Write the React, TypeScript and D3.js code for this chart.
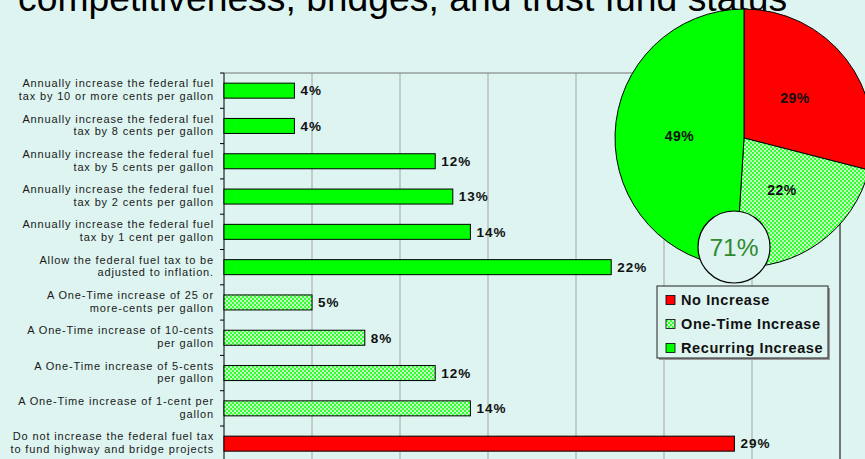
import * as d3 from "d3";

const categories = [
  ["Annually increase the federal fuel", "tax by 10 or more cents per gallon"],
  ["Annually increase the federal fuel", "tax by 8 cents per gallon"],
  ["Annually increase the federal fuel", "tax by 5 cents per gallon"],
  ["Annually increase the federal fuel", "tax by 2 cents per gallon"],
  ["Annually increase the federal fuel", "tax by 1 cent per gallon"],
  ["Allow the federal fuel tax to be", "adjusted to inflation."],
  ["A One-Time increase of 25 or", "more-cents per gallon"],
  ["A One-Time increase of 10-cents", "per gallon"],
  ["A One-Time increase of 5-cents", "per gallon"],
  ["A One-Time increase of 1-cent per", "gallon"],
  ["Do not increase the federal fuel tax", "to fund highway and bridge projects"],
];
const values = [4, 4, 12, 13, 14, 22, 5, 8, 12, 14, 29];
const barGroup = ["rec", "rec", "rec", "rec", "rec", "rec", "one", "one", "one", "one", "no"];

const pieLabels = ["No Increase", "One-Time Increase", "Recurring Increase"];
const pieKeys = ["no", "one", "rec"];
const pieValues = [29, 22, 49];
const circleText = "71%";
const xTicks = [5, 10, 15, 20, 25, 30];

const bg = "#ddf4f0";
const fills: Record<string, string> = { no: "#ff0000", one: "url(#dots)", rec: "#00ff00" };

export default function App() {
  const W = 865, H = 459;
  const left = 224, right = 840, top = 73, bottom = 73 + 35.3 * 11;

  const x = d3.scaleLinear().domain([0, 35]).range([left, right]);
  const y = d3.scaleBand<number>()
    .domain(d3.range(categories.length))
    .range([top, bottom])
    .paddingInner(0.575)
    .paddingOuter(0.2875);
  const step = y.step();
  const cy = (i: number) => (y(i) as number) + y.bandwidth() / 2;

  const pieCx = 744, pieCy = 138, R = 129;
  const pie = d3.pie<number>().sort(null).value(d => d)(pieValues);
  const arc = d3.arc<d3.PieArcDatum<number>>().innerRadius(0).outerRadius(R);

  return (
    <svg width={W} height={H} style={{ position: "absolute", left: 0, top: 0, background: bg }}
      fontFamily="'Liberation Sans', Arial, sans-serif">
      <defs>
        <pattern id="dots" width={4} height={4} patternUnits="userSpaceOnUse">
          <rect width={4} height={4} fill="#33ff33" />
          <rect width={2} height={2} fill="#c0ffc0" />
          <rect x={2} y={2} width={2} height={2} fill="#c0ffc0" />
        </pattern>
      </defs>
      <rect width={W} height={H} fill={bg} />

      <text x={18} y={11} fontSize={37.3} fill="#000">competitiveness, bridges, and trust fund status</text>

      {xTicks.map(t => (
        <line key={t} x1={x(t)} x2={x(t)} y1={top} y2={H} stroke="#a6a6a6" strokeWidth={1} />
      ))}
      <line x1={left} x2={right} y1={top} y2={top} stroke="#777" />
      <line x1={x(35)} x2={x(35)} y1={top} y2={H} stroke="#000" />
      <line x1={left} x2={left} y1={top} y2={H} stroke="#000" />
      {d3.range(categories.length + 1).map(i => (
        <line key={i} x1={left - 4} x2={left} y1={top + step * i} y2={top + step * i} stroke="#000" />
      ))}

      {categories.map((lines, i) => (
        <text key={i} textAnchor="end" fontSize={11} letterSpacing={0.85} fill="#1a1a1a">
          <tspan x={214} y={cy(i) - 3.4}>{lines[0]}</tspan>
          <tspan x={214} y={cy(i) + 9.3}>{lines[1]}</tspan>
        </text>
      ))}

      {values.map((v, i) => (
        <g key={i}>
          <rect x={x(0)} y={y(i)} width={x(v) - x(0)} height={y.bandwidth()}
            fill={fills[barGroup[i]]} stroke="#000" strokeWidth={1} />
          <text x={x(v) + 6} y={cy(i) + 4.8} fontSize={13.5} fontWeight="bold" letterSpacing={1} fill="#111">
            {v}%
          </text>
        </g>
      ))}

      <g transform={`translate(${pieCx},${pieCy})`}>
        {pie.map((d, i) => (
          <path key={i} d={arc(d) as string} fill={fills[pieKeys[i]]} stroke="#000" strokeWidth={1} />
        ))}
        {pie.map((d, i) => {
          const [px, py] = arc.centroid(d);
          return (
            <text key={i} x={px} y={py + 5} textAnchor="middle" fontSize={14} fontWeight="bold"
              letterSpacing={0.5} fill="#111">{d.data}%</text>
          );
        })}
      </g>

      <circle cx={734} cy={247} r={36} fill={bg} stroke="#000" strokeWidth={1.2} />
      <text x={734} y={256} textAnchor="middle" fontSize={24.5} fill="#2f8a2f">{circleText}</text>

      <rect x={659} y={288} width={171} height={72} fill="#999" />
      <rect x={657} y={286} width={171} height={72} fill={bg} stroke="#222" strokeWidth={1} />
      {pieLabels.map((l, i) => (
        <g key={l}>
          <rect x={666} y={295.5 + i * 24} width={9} height={9} fill={fills[pieKeys[i]]} stroke="#000" strokeWidth={0.8} />
          <text x={681} y={305 + i * 24} fontSize={14.5} fontWeight="bold" letterSpacing={0.6} fill="#111">{l}</text>
        </g>
      ))}
    </svg>
  );
}
